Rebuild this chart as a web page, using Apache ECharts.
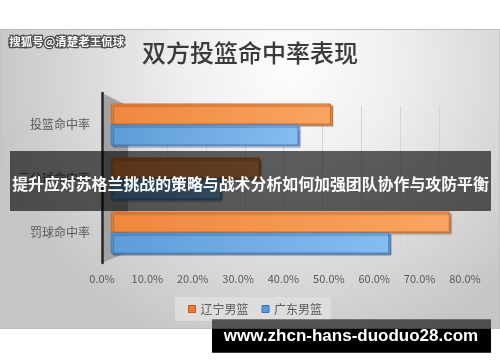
<!DOCTYPE html>
<html>
<head>
<meta charset="utf-8">
<script src="https://cdn.jsdelivr.net/npm/echarts@6/dist/echarts.min.js"></script>
<style>html,body{margin:0;padding:0;background:#fff;}#c{width:500px;height:362px;}</style>
</head>
<body>
<div id="c"></div>
<script>
const categories = ['投篮命中率', '三分球命中率', '罚球命中率'];
const liaoning = [51.0, 34.5, 78.5];
const guangdong = [43.5, 25.5, 64.5];
const seriesNames = ['辽宁男篮', '广东男篮'];
const xTicks = [0, 10, 20, 30, 40, 50, 60, 70, 80];
const titleText = '双方投篮命中率表现';
const bannerText = '提升应对苏格兰挑战的策略与战术分析如何加强团队协作与攻防平衡';
const footerText = 'www.zhcn-hans-duoduo28.com';
const watermarkText = '搜狐号@清楚老王侃球';

const CJK = '"Noto Sans CJK SC", "Noto Sans", sans-serif';
const xMin = xTicks[0], xMax = xTicks[xTicks.length - 1], xStep = xTicks[1] - xTicks[0];

const chart = echarts.init(document.getElementById('c'), null, {renderer: 'canvas'});

const orangeFill = {type: 'linear', x: 0, y: 0, x2: 1, y2: 0, colorStops: [
  {offset: 0, color: '#EF873E'}, {offset: 1, color: '#F9A562'}]};
const blueFill = {type: 'linear', x: 0, y: 0, x2: 1, y2: 0, colorStops: [
  {offset: 0, color: '#5E9CD8'}, {offset: 1, color: '#86BDF0'}]};

const option = {
  backgroundColor: '#ffffff',
  animation: false,
  textStyle: {fontFamily: CJK},
  title: {
    text: titleText, left: 'center', top: 41, padding: 0,
    textStyle: {fontSize: 24, fontWeight: 500, color: '#3a3a3a', fontFamily: CJK}
  },
  legend: {
    data: [
      {name: seriesNames[0], itemStyle: {color: '#ED7D31', borderColor: '#C55A11', borderWidth: 1}},
      {name: seriesNames[1], itemStyle: {color: '#5B9BD5', borderColor: '#2E75B6', borderWidth: 1}}
    ],
    left: 175, top: 297, icon: 'rect', itemWidth: 7, itemHeight: 7, itemGap: 13,
    padding: [6, 9, 6, 13], backgroundColor: '#dddddd',
    textStyle: {fontSize: 12, color: '#595959', fontFamily: CJK}
  },
  grid: [
    {left: 102, top: 93, width: 363, height: 170},
    {left: 110.7, top: 97.5, width: 345.6, height: 162},
    {left: 128.5, top: 106, width: 310.4, height: 146}
  ],
  xAxis: [
    {gridIndex: 0, type: 'value', min: xMin, max: xMax, interval: xStep,
     axisLine: {show: false}, axisTick: {show: false}, splitLine: {show: false},
     axisLabel: {formatter: v => v.toFixed(1) + '%', fontSize: 11, color: '#595959', margin: 10, fontFamily: CJK}},
    {gridIndex: 1, type: 'value', min: xMin, max: xMax, interval: xStep, show: false},
    {gridIndex: 2, type: 'value', min: xMin, max: xMax, interval: xStep,
     axisLine: {show: false}, axisTick: {show: false}, axisLabel: {show: false},
     splitLine: {show: true, lineStyle: {color: '#d4d4d4', width: 1}}}
  ],
  yAxis: [
    {gridIndex: 0, type: 'category', data: categories, inverse: true,
     axisLine: {show: true, lineStyle: {color: '#262626', width: 2.5}},
     axisTick: {show: false}, axisLabel: {show: false}, splitLine: {show: false}},
    {gridIndex: 1, type: 'category', data: categories, inverse: true,
     axisLine: {show: false}, axisTick: {show: false}, splitLine: {show: false},
     axisLabel: {fontSize: 12, color: '#595959', margin: 20.7, fontFamily: CJK}},
    {gridIndex: 2, type: 'category', data: categories, inverse: true, show: false}
  ],
  series: [
    {type: 'bar', name: seriesNames[0], xAxisIndex: 1, yAxisIndex: 1, data: liaoning,
     barWidth: 21, barGap: '0%',
     itemStyle: {color: orangeFill, borderColor: '#D2691F', borderWidth: 1,
       shadowColor: 'rgba(120,50,0,0.45)', shadowOffsetX: 2, shadowOffsetY: 2, shadowBlur: 1}},
    {type: 'bar', name: seriesNames[1], xAxisIndex: 1, yAxisIndex: 1, data: guangdong,
     barWidth: 21, barGap: '0%',
     itemStyle: {color: blueFill, borderColor: '#3A7CC4', borderWidth: 1,
       shadowColor: 'rgba(20,60,110,0.45)', shadowOffsetX: 2, shadowOffsetY: 2, shadowBlur: 1}}
  ],
  graphic: [
    {type: 'rect', z: -10, shape: {x: 0, y: 29.5, width: 500, height: 299},
     style: {fill: {type: 'radial', x: 0.58, y: 0.12, r: 1.0, colorStops: [
       {offset: 0, color: '#fdfdfd'}, {offset: 0.35, color: '#efefef'}, {offset: 1, color: '#c6c6c6'}]},
       stroke: '#bdbdbd', lineWidth: 1}},
    {type: 'polygon', z: -1, shape: {points: [[102, 93], [128.5, 106], [128.5, 252], [102, 263]]},
     style: {fill: '#a3a3a3'}},
    {type: 'text', z: 50, left: 8, top: 35,
     style: {text: watermarkText, fill: '#ffffff', stroke: '#4a4a4a', lineWidth: 2.5,
       font: 'bold 11.5px ' + CJK}},
    {type: 'rect', z: 100, shape: {x: 10, y: 151, width: 481, height: 60},
     style: {fill: 'rgba(0,0,0,0.62)'}},
    {type: 'text', z: 101, x: 250.5, y: 184,
     style: {text: bannerText, fill: '#ffffff', font: 'bold 15.9px ' + CJK,
       textAlign: 'center', textVerticalAlign: 'middle'}},
    {type: 'rect', z: 100, shape: {x: 212, y: 319.3, width: 279, height: 9.2},
     style: {fill: 'rgba(0,0,0,0.6)'}},
    {type: 'rect', z: 100, shape: {x: 212, y: 328.5, width: 279, height: 24.2},
     style: {fill: '#000000'}},
    {type: 'text', z: 101, x: 351, y: 336.5,
     style: {text: footerText, fill: '#ffffff', font: 'bold 17px "Liberation Sans", Arial, sans-serif',
       textAlign: 'center', textVerticalAlign: 'middle'}}
  ]
};
chart.setOption(option);
</script>
</body>
</html>
